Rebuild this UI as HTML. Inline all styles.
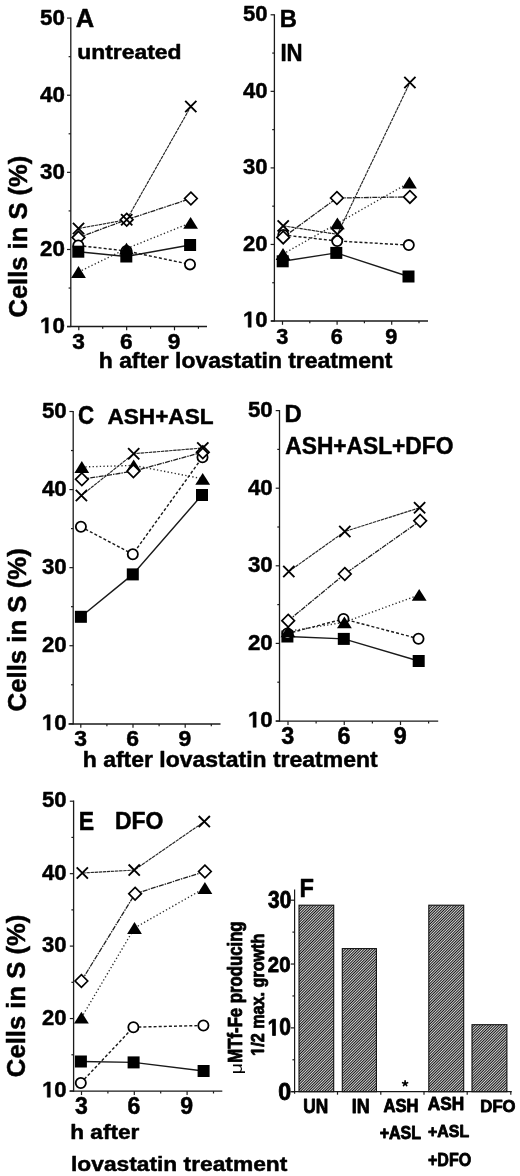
<!DOCTYPE html>
<html><head><meta charset="utf-8"><style>html,body{margin:0;padding:0;background:#fff;width:520px;height:1176px;overflow:hidden}</style></head>
<body>
<svg width="520" height="1176" viewBox="0 0 520 1176" style="position:absolute;left:0;top:0;filter:blur(0.35px)">
<defs><pattern id="h" patternUnits="userSpaceOnUse" width="1.91" height="4" patternTransform="rotate(45)"><rect width="1.91" height="4" fill="#d6d6d6"/><rect width="0.95" height="4" fill="#141414"/></pattern></defs>
<rect width="520" height="1176" fill="#fff"/>
<g font-family='"Liberation Sans", sans-serif' fill="#000">
<line x1="70.80" y1="17.50" x2="70.80" y2="327.10" stroke="#1a1a1a" stroke-width="1.3" />
<line x1="67.00" y1="326.50" x2="207.00" y2="326.50" stroke="#1a1a1a" stroke-width="1.3" />
<line x1="67.00" y1="326.60" x2="70.80" y2="326.60" stroke="#1a1a1a" stroke-width="1.2" />
<line x1="68.60" y1="288.04" x2="70.80" y2="288.04" stroke="#1a1a1a" stroke-width="1.2" />
<line x1="67.00" y1="249.48" x2="70.80" y2="249.48" stroke="#1a1a1a" stroke-width="1.2" />
<line x1="68.60" y1="210.91" x2="70.80" y2="210.91" stroke="#1a1a1a" stroke-width="1.2" />
<line x1="67.00" y1="172.35" x2="70.80" y2="172.35" stroke="#1a1a1a" stroke-width="1.2" />
<line x1="68.60" y1="133.79" x2="70.80" y2="133.79" stroke="#1a1a1a" stroke-width="1.2" />
<line x1="67.00" y1="95.23" x2="70.80" y2="95.23" stroke="#1a1a1a" stroke-width="1.2" />
<line x1="68.60" y1="56.66" x2="70.80" y2="56.66" stroke="#1a1a1a" stroke-width="1.2" />
<line x1="67.00" y1="18.10" x2="70.80" y2="18.10" stroke="#1a1a1a" stroke-width="1.2" />
<line x1="78.80" y1="326.50" x2="78.80" y2="330.30" stroke="#1a1a1a" stroke-width="1.2" />
<line x1="102.72" y1="326.50" x2="102.72" y2="328.80" stroke="#1a1a1a" stroke-width="1.2" />
<line x1="126.65" y1="326.50" x2="126.65" y2="330.30" stroke="#1a1a1a" stroke-width="1.2" />
<line x1="150.57" y1="326.50" x2="150.57" y2="328.80" stroke="#1a1a1a" stroke-width="1.2" />
<line x1="174.50" y1="326.50" x2="174.50" y2="330.30" stroke="#1a1a1a" stroke-width="1.2" />
<line x1="198.43" y1="326.50" x2="198.43" y2="328.80" stroke="#1a1a1a" stroke-width="1.2" />
<g transform="translate(40.00,333.12) scale(0.22339,0.22394)"><path transform="translate(0.00,0)" d="M23.34,0L23.34,-57.13L6.84,-46.83L6.84,-57.62L24.07,-68.80L37.06,-68.80L37.06,0Z" stroke="#000" stroke-width="2.233" stroke-linejoin="round"/><text x="55.62" font-size="100" font-weight="bold" stroke="#000" stroke-width="2.233" stroke-linejoin="round">0</text></g>
<text transform="translate(40.00,256.00) scale(0.22339,0.22394)" font-size="100" font-weight="bold" stroke="#000" stroke-width="2.233" stroke-linejoin="round">20</text>
<text transform="translate(40.00,178.87) scale(0.22339,0.22394)" font-size="100" font-weight="bold" stroke="#000" stroke-width="2.233" stroke-linejoin="round">30</text>
<text transform="translate(40.00,101.75) scale(0.22339,0.22394)" font-size="100" font-weight="bold" stroke="#000" stroke-width="2.233" stroke-linejoin="round">40</text>
<text transform="translate(40.00,24.62) scale(0.22339,0.22394)" font-size="100" font-weight="bold" stroke="#000" stroke-width="2.233" stroke-linejoin="round">50</text>
<text transform="translate(72.30,349.12) scale(0.22676,0.22676)" font-size="100" font-weight="bold" stroke="#000" stroke-width="2.205" stroke-linejoin="round">3</text>
<text transform="translate(119.98,349.12) scale(0.22676,0.22676)" font-size="100" font-weight="bold" stroke="#000" stroke-width="2.205" stroke-linejoin="round">6</text>
<text transform="translate(167.86,349.12) scale(0.22676,0.22676)" font-size="100" font-weight="bold" stroke="#000" stroke-width="2.205" stroke-linejoin="round">9</text>
<path d="M78.30,251.70L126.30,256.50L190.10,245.00" fill="none" stroke="#1a1a1a" stroke-width="1.45" />
<path d="M78.30,245.50L126.50,251.00L190.00,264.40" fill="none" stroke="#1a1a1a" stroke-width="1.45" stroke-dasharray="3,2.1"/>
<path d="M78.50,272.00L126.50,248.60L190.60,222.80" fill="none" stroke="#2a2a2a" stroke-width="1.35" stroke-dasharray="1.3,2.3"/>
<path d="M78.50,237.60L126.70,219.70L190.90,198.50" fill="none" stroke="#202020" stroke-width="1.3" stroke-dasharray="5,1,1.5,1"/>
<path d="M78.50,228.50L126.70,219.70L190.80,106.50" fill="none" stroke="#262626" stroke-width="1.15" stroke-dasharray="3.4,0.7"/>
<path d="M78.50,231.30L84.80,237.60L78.50,243.90L72.20,237.60Z" stroke="#000" stroke-width="1.7" fill="#fff"/>
<path d="M126.70,213.40L133.00,219.70L126.70,226.00L120.40,219.70Z" stroke="#000" stroke-width="1.7" fill="#fff"/>
<path d="M190.90,192.20L197.20,198.50L190.90,204.80L184.60,198.50Z" stroke="#000" stroke-width="1.7" fill="#fff"/>
<path d="M72.90,222.90L84.10,234.10M84.10,222.90L72.90,234.10" stroke="#000" stroke-width="1.9" fill="none"/>
<path d="M121.10,214.10L132.30,225.30M132.30,214.10L121.10,225.30" stroke="#000" stroke-width="1.9" fill="none"/>
<path d="M185.20,100.90L196.40,112.10M196.40,100.90L185.20,112.10" stroke="#000" stroke-width="1.9" fill="none"/>
<circle cx="78.30" cy="245.50" r="5.1" stroke="#000" stroke-width="1.8" fill="#fff"/>
<circle cx="126.50" cy="251.00" r="5.1" stroke="#000" stroke-width="1.8" fill="#fff"/>
<circle cx="190.00" cy="264.40" r="5.1" stroke="#000" stroke-width="1.8" fill="#fff"/>
<rect x="72.30" y="245.70" width="12.00" height="12.00" fill="#000"/>
<rect x="120.30" y="250.50" width="12.00" height="12.00" fill="#000"/>
<rect x="184.10" y="239.00" width="12.00" height="12.00" fill="#000"/>
<path d="M78.50,266.10L85.90,277.90L71.10,277.90Z" fill="#000"/>
<path d="M126.50,242.70L133.90,254.50L119.10,254.50Z" fill="#000"/>
<path d="M190.60,216.90L198.00,228.70L183.20,228.70Z" fill="#000"/>
<line x1="274.40" y1="14.20" x2="274.40" y2="321.60" stroke="#1a1a1a" stroke-width="1.3" />
<line x1="271.00" y1="321.00" x2="428.00" y2="321.00" stroke="#1a1a1a" stroke-width="1.3" />
<line x1="270.60" y1="321.00" x2="274.40" y2="321.00" stroke="#1a1a1a" stroke-width="1.2" />
<line x1="272.20" y1="282.73" x2="274.40" y2="282.73" stroke="#1a1a1a" stroke-width="1.2" />
<line x1="270.60" y1="244.45" x2="274.40" y2="244.45" stroke="#1a1a1a" stroke-width="1.2" />
<line x1="272.20" y1="206.18" x2="274.40" y2="206.18" stroke="#1a1a1a" stroke-width="1.2" />
<line x1="270.60" y1="167.90" x2="274.40" y2="167.90" stroke="#1a1a1a" stroke-width="1.2" />
<line x1="272.20" y1="129.63" x2="274.40" y2="129.63" stroke="#1a1a1a" stroke-width="1.2" />
<line x1="270.60" y1="91.35" x2="274.40" y2="91.35" stroke="#1a1a1a" stroke-width="1.2" />
<line x1="272.20" y1="53.08" x2="274.40" y2="53.08" stroke="#1a1a1a" stroke-width="1.2" />
<line x1="270.60" y1="14.80" x2="274.40" y2="14.80" stroke="#1a1a1a" stroke-width="1.2" />
<line x1="282.50" y1="321.00" x2="282.50" y2="324.80" stroke="#1a1a1a" stroke-width="1.2" />
<line x1="309.80" y1="321.00" x2="309.80" y2="323.30" stroke="#1a1a1a" stroke-width="1.2" />
<line x1="337.10" y1="321.00" x2="337.10" y2="324.80" stroke="#1a1a1a" stroke-width="1.2" />
<line x1="364.40" y1="321.00" x2="364.40" y2="323.30" stroke="#1a1a1a" stroke-width="1.2" />
<line x1="391.70" y1="321.00" x2="391.70" y2="324.80" stroke="#1a1a1a" stroke-width="1.2" />
<line x1="419.00" y1="321.00" x2="419.00" y2="323.30" stroke="#1a1a1a" stroke-width="1.2" />
<g transform="translate(243.00,327.22) scale(0.22053,0.22394)"><path transform="translate(0.00,0)" d="M23.34,0L23.34,-57.13L6.84,-46.83L6.84,-57.62L24.07,-68.80L37.06,-68.80L37.06,0Z" stroke="#000" stroke-width="2.233" stroke-linejoin="round"/><text x="55.62" font-size="100" font-weight="bold" stroke="#000" stroke-width="2.233" stroke-linejoin="round">0</text></g>
<text transform="translate(243.00,250.67) scale(0.22053,0.22394)" font-size="100" font-weight="bold" stroke="#000" stroke-width="2.233" stroke-linejoin="round">20</text>
<text transform="translate(243.00,174.12) scale(0.22053,0.22394)" font-size="100" font-weight="bold" stroke="#000" stroke-width="2.233" stroke-linejoin="round">30</text>
<text transform="translate(243.00,97.57) scale(0.22053,0.22394)" font-size="100" font-weight="bold" stroke="#000" stroke-width="2.233" stroke-linejoin="round">40</text>
<text transform="translate(243.00,21.02) scale(0.22053,0.22394)" font-size="100" font-weight="bold" stroke="#000" stroke-width="2.233" stroke-linejoin="round">50</text>
<text transform="translate(276.27,343.53) scale(0.21690,0.21690)" font-size="100" font-weight="bold" stroke="#000" stroke-width="2.305" stroke-linejoin="round">3</text>
<text transform="translate(330.70,343.53) scale(0.21690,0.21690)" font-size="100" font-weight="bold" stroke="#000" stroke-width="2.305" stroke-linejoin="round">6</text>
<text transform="translate(385.33,343.53) scale(0.21690,0.21690)" font-size="100" font-weight="bold" stroke="#000" stroke-width="2.305" stroke-linejoin="round">9</text>
<path d="M282.70,261.30L336.30,252.90L408.50,276.50" fill="none" stroke="#1a1a1a" stroke-width="1.45" />
<path d="M283.30,235.00L337.20,241.00L408.80,245.10" fill="none" stroke="#1a1a1a" stroke-width="1.45" stroke-dasharray="3,2.1"/>
<path d="M283.00,254.00L337.40,223.40L409.40,182.50" fill="none" stroke="#2a2a2a" stroke-width="1.35" stroke-dasharray="1.3,2.3"/>
<path d="M283.20,237.40L336.90,198.00L409.90,196.90" fill="none" stroke="#202020" stroke-width="1.3" stroke-dasharray="5,1,1.5,1"/>
<path d="M283.20,225.90L337.40,234.30L409.90,82.50" fill="none" stroke="#262626" stroke-width="1.15" stroke-dasharray="3.4,0.7"/>
<circle cx="283.30" cy="235.00" r="5.1" stroke="#000" stroke-width="1.8" fill="#fff"/>
<circle cx="337.20" cy="241.00" r="5.1" stroke="#000" stroke-width="1.8" fill="#fff"/>
<circle cx="408.80" cy="245.10" r="5.1" stroke="#000" stroke-width="1.8" fill="#fff"/>
<path d="M283.20,231.10L289.50,237.40L283.20,243.70L276.90,237.40Z" stroke="#000" stroke-width="1.7" fill="#fff"/>
<path d="M336.90,191.70L343.20,198.00L336.90,204.30L330.60,198.00Z" stroke="#000" stroke-width="1.7" fill="#fff"/>
<path d="M409.90,190.60L416.20,196.90L409.90,203.20L403.60,196.90Z" stroke="#000" stroke-width="1.7" fill="#fff"/>
<path d="M277.60,220.30L288.80,231.50M288.80,220.30L277.60,231.50" stroke="#000" stroke-width="1.9" fill="none"/>
<path d="M331.80,228.70L343.00,239.90M343.00,228.70L331.80,239.90" stroke="#000" stroke-width="1.9" fill="none"/>
<path d="M404.30,76.90L415.50,88.10M415.50,76.90L404.30,88.10" stroke="#000" stroke-width="1.9" fill="none"/>
<path d="M283.00,248.10L290.40,259.90L275.60,259.90Z" fill="#000"/>
<path d="M337.40,217.50L344.80,229.30L330.00,229.30Z" fill="#000"/>
<path d="M409.40,176.60L416.80,188.40L402.00,188.40Z" fill="#000"/>
<rect x="276.70" y="255.30" width="12.00" height="12.00" fill="#000"/>
<rect x="330.30" y="246.90" width="12.00" height="12.00" fill="#000"/>
<rect x="402.50" y="270.50" width="12.00" height="12.00" fill="#000"/>
<line x1="73.20" y1="410.90" x2="73.20" y2="724.60" stroke="#1a1a1a" stroke-width="1.3" />
<line x1="68.50" y1="724.00" x2="220.50" y2="724.00" stroke="#1a1a1a" stroke-width="1.3" />
<line x1="69.40" y1="723.80" x2="73.20" y2="723.80" stroke="#1a1a1a" stroke-width="1.2" />
<line x1="71.00" y1="684.76" x2="73.20" y2="684.76" stroke="#1a1a1a" stroke-width="1.2" />
<line x1="69.40" y1="645.72" x2="73.20" y2="645.72" stroke="#1a1a1a" stroke-width="1.2" />
<line x1="71.00" y1="606.69" x2="73.20" y2="606.69" stroke="#1a1a1a" stroke-width="1.2" />
<line x1="69.40" y1="567.65" x2="73.20" y2="567.65" stroke="#1a1a1a" stroke-width="1.2" />
<line x1="71.00" y1="528.61" x2="73.20" y2="528.61" stroke="#1a1a1a" stroke-width="1.2" />
<line x1="69.40" y1="489.57" x2="73.20" y2="489.57" stroke="#1a1a1a" stroke-width="1.2" />
<line x1="71.00" y1="450.54" x2="73.20" y2="450.54" stroke="#1a1a1a" stroke-width="1.2" />
<line x1="69.40" y1="411.50" x2="73.20" y2="411.50" stroke="#1a1a1a" stroke-width="1.2" />
<line x1="80.80" y1="724.00" x2="80.80" y2="727.80" stroke="#1a1a1a" stroke-width="1.2" />
<line x1="106.90" y1="724.00" x2="106.90" y2="726.30" stroke="#1a1a1a" stroke-width="1.2" />
<line x1="133.00" y1="724.00" x2="133.00" y2="727.80" stroke="#1a1a1a" stroke-width="1.2" />
<line x1="159.10" y1="724.00" x2="159.10" y2="726.30" stroke="#1a1a1a" stroke-width="1.2" />
<line x1="185.20" y1="724.00" x2="185.20" y2="727.80" stroke="#1a1a1a" stroke-width="1.2" />
<line x1="211.30" y1="724.00" x2="211.30" y2="726.30" stroke="#1a1a1a" stroke-width="1.2" />
<g transform="translate(41.90,730.12) scale(0.22243,0.22394)"><path transform="translate(0.00,0)" d="M23.34,0L23.34,-57.13L6.84,-46.83L6.84,-57.62L24.07,-68.80L37.06,-68.80L37.06,0Z" stroke="#000" stroke-width="2.233" stroke-linejoin="round"/><text x="55.62" font-size="100" font-weight="bold" stroke="#000" stroke-width="2.233" stroke-linejoin="round">0</text></g>
<text transform="translate(41.90,652.05) scale(0.22243,0.22394)" font-size="100" font-weight="bold" stroke="#000" stroke-width="2.233" stroke-linejoin="round">20</text>
<text transform="translate(41.90,573.97) scale(0.22243,0.22394)" font-size="100" font-weight="bold" stroke="#000" stroke-width="2.233" stroke-linejoin="round">30</text>
<text transform="translate(41.90,495.90) scale(0.22243,0.22394)" font-size="100" font-weight="bold" stroke="#000" stroke-width="2.233" stroke-linejoin="round">40</text>
<text transform="translate(41.90,417.82) scale(0.22243,0.22394)" font-size="100" font-weight="bold" stroke="#000" stroke-width="2.233" stroke-linejoin="round">50</text>
<text transform="translate(74.22,746.41) scale(0.22958,0.22958)" font-size="100" font-weight="bold" stroke="#000" stroke-width="2.178" stroke-linejoin="round">3</text>
<text transform="translate(126.25,746.41) scale(0.22958,0.22958)" font-size="100" font-weight="bold" stroke="#000" stroke-width="2.178" stroke-linejoin="round">6</text>
<text transform="translate(178.48,746.41) scale(0.22958,0.22958)" font-size="100" font-weight="bold" stroke="#000" stroke-width="2.178" stroke-linejoin="round">9</text>
<path d="M80.90,616.80L132.80,574.40L202.00,495.00" fill="none" stroke="#1a1a1a" stroke-width="1.45" />
<path d="M80.90,526.80L132.80,554.20L202.50,457.20" fill="none" stroke="#1a1a1a" stroke-width="1.45" stroke-dasharray="3,2.1"/>
<path d="M81.80,467.00L133.70,465.40L202.70,478.80" fill="none" stroke="#2a2a2a" stroke-width="1.35" stroke-dasharray="1.3,2.3"/>
<path d="M81.85,479.30L133.40,471.20L202.80,452.20" fill="none" stroke="#202020" stroke-width="1.3" stroke-dasharray="5,1,1.5,1"/>
<path d="M81.40,495.50L133.70,453.70L202.80,448.00" fill="none" stroke="#262626" stroke-width="1.15" stroke-dasharray="3.4,0.7"/>
<path d="M81.80,461.10L89.20,472.90L74.40,472.90Z" fill="#000"/>
<path d="M133.70,459.50L141.10,471.30L126.30,471.30Z" fill="#000"/>
<path d="M202.70,472.90L210.10,484.70L195.30,484.70Z" fill="#000"/>
<circle cx="80.90" cy="526.80" r="5.1" stroke="#000" stroke-width="1.8" fill="#fff"/>
<circle cx="132.80" cy="554.20" r="5.1" stroke="#000" stroke-width="1.8" fill="#fff"/>
<circle cx="202.50" cy="457.20" r="5.1" stroke="#000" stroke-width="1.8" fill="#fff"/>
<path d="M81.85,473.00L88.15,479.30L81.85,485.60L75.55,479.30Z" stroke="#000" stroke-width="1.7" fill="#fff"/>
<path d="M133.40,464.90L139.70,471.20L133.40,477.50L127.10,471.20Z" stroke="#000" stroke-width="1.7" fill="#fff"/>
<path d="M202.80,445.90L209.10,452.20L202.80,458.50L196.50,452.20Z" stroke="#000" stroke-width="1.7" fill="#fff"/>
<path d="M75.80,489.90L87.00,501.10M87.00,489.90L75.80,501.10" stroke="#000" stroke-width="1.9" fill="none"/>
<path d="M128.10,448.10L139.30,459.30M139.30,448.10L128.10,459.30" stroke="#000" stroke-width="1.9" fill="none"/>
<path d="M197.20,442.40L208.40,453.60M208.40,442.40L197.20,453.60" stroke="#000" stroke-width="1.9" fill="none"/>
<rect x="74.90" y="610.80" width="12.00" height="12.00" fill="#000"/>
<rect x="126.80" y="568.40" width="12.00" height="12.00" fill="#000"/>
<rect x="196.00" y="489.00" width="12.00" height="12.00" fill="#000"/>
<line x1="279.50" y1="410.00" x2="279.50" y2="721.80" stroke="#1a1a1a" stroke-width="1.3" />
<line x1="275.80" y1="721.20" x2="438.20" y2="721.20" stroke="#1a1a1a" stroke-width="1.3" />
<line x1="275.70" y1="721.00" x2="279.50" y2="721.00" stroke="#1a1a1a" stroke-width="1.2" />
<line x1="277.30" y1="682.20" x2="279.50" y2="682.20" stroke="#1a1a1a" stroke-width="1.2" />
<line x1="275.70" y1="643.40" x2="279.50" y2="643.40" stroke="#1a1a1a" stroke-width="1.2" />
<line x1="277.30" y1="604.60" x2="279.50" y2="604.60" stroke="#1a1a1a" stroke-width="1.2" />
<line x1="275.70" y1="565.80" x2="279.50" y2="565.80" stroke="#1a1a1a" stroke-width="1.2" />
<line x1="277.30" y1="527.00" x2="279.50" y2="527.00" stroke="#1a1a1a" stroke-width="1.2" />
<line x1="275.70" y1="488.20" x2="279.50" y2="488.20" stroke="#1a1a1a" stroke-width="1.2" />
<line x1="277.30" y1="449.40" x2="279.50" y2="449.40" stroke="#1a1a1a" stroke-width="1.2" />
<line x1="275.70" y1="410.60" x2="279.50" y2="410.60" stroke="#1a1a1a" stroke-width="1.2" />
<line x1="288.00" y1="721.20" x2="288.00" y2="725.00" stroke="#1a1a1a" stroke-width="1.2" />
<line x1="316.12" y1="721.20" x2="316.12" y2="723.50" stroke="#1a1a1a" stroke-width="1.2" />
<line x1="344.25" y1="721.20" x2="344.25" y2="725.00" stroke="#1a1a1a" stroke-width="1.2" />
<line x1="372.38" y1="721.20" x2="372.38" y2="723.50" stroke="#1a1a1a" stroke-width="1.2" />
<line x1="400.50" y1="721.20" x2="400.50" y2="725.00" stroke="#1a1a1a" stroke-width="1.2" />
<line x1="428.62" y1="721.20" x2="428.62" y2="723.50" stroke="#1a1a1a" stroke-width="1.2" />
<g transform="translate(247.90,727.32) scale(0.22243,0.22394)"><path transform="translate(0.00,0)" d="M23.34,0L23.34,-57.13L6.84,-46.83L6.84,-57.62L24.07,-68.80L37.06,-68.80L37.06,0Z" stroke="#000" stroke-width="2.233" stroke-linejoin="round"/><text x="55.62" font-size="100" font-weight="bold" stroke="#000" stroke-width="2.233" stroke-linejoin="round">0</text></g>
<text transform="translate(247.90,649.72) scale(0.22243,0.22394)" font-size="100" font-weight="bold" stroke="#000" stroke-width="2.233" stroke-linejoin="round">20</text>
<text transform="translate(247.90,572.12) scale(0.22243,0.22394)" font-size="100" font-weight="bold" stroke="#000" stroke-width="2.233" stroke-linejoin="round">30</text>
<text transform="translate(247.90,494.52) scale(0.22243,0.22394)" font-size="100" font-weight="bold" stroke="#000" stroke-width="2.233" stroke-linejoin="round">40</text>
<text transform="translate(247.90,416.92) scale(0.22243,0.22394)" font-size="100" font-weight="bold" stroke="#000" stroke-width="2.233" stroke-linejoin="round">50</text>
<text transform="translate(281.31,743.81) scale(0.23380,0.23380)" font-size="100" font-weight="bold" stroke="#000" stroke-width="2.139" stroke-linejoin="round">3</text>
<text transform="translate(337.38,743.81) scale(0.23380,0.23380)" font-size="100" font-weight="bold" stroke="#000" stroke-width="2.139" stroke-linejoin="round">6</text>
<text transform="translate(393.66,743.81) scale(0.23380,0.23380)" font-size="100" font-weight="bold" stroke="#000" stroke-width="2.139" stroke-linejoin="round">9</text>
<path d="M287.40,636.50L343.80,638.90L418.70,661.00" fill="none" stroke="#1a1a1a" stroke-width="1.45" />
<path d="M287.50,633.50L343.50,619.00L418.50,638.70" fill="none" stroke="#1a1a1a" stroke-width="1.45" stroke-dasharray="3,2.1"/>
<path d="M288.00,631.30L344.40,622.30L419.20,594.80" fill="none" stroke="#2a2a2a" stroke-width="1.35" stroke-dasharray="1.3,2.3"/>
<path d="M288.20,620.70L344.80,574.00L420.20,520.80" fill="none" stroke="#202020" stroke-width="1.3" stroke-dasharray="5,1,1.5,1"/>
<path d="M288.80,571.50L344.80,531.50L419.60,507.80" fill="none" stroke="#262626" stroke-width="1.15" stroke-dasharray="3.4,0.7"/>
<rect x="281.40" y="630.50" width="12.00" height="12.00" fill="#000"/>
<rect x="337.80" y="632.90" width="12.00" height="12.00" fill="#000"/>
<rect x="412.70" y="655.00" width="12.00" height="12.00" fill="#000"/>
<circle cx="287.50" cy="633.50" r="5.1" stroke="#000" stroke-width="1.8" fill="#fff"/>
<circle cx="343.50" cy="619.00" r="5.1" stroke="#000" stroke-width="1.8" fill="#fff"/>
<circle cx="418.50" cy="638.70" r="5.1" stroke="#000" stroke-width="1.8" fill="#fff"/>
<path d="M288.00,625.40L295.40,637.20L280.60,637.20Z" fill="#000"/>
<path d="M344.40,616.40L351.80,628.20L337.00,628.20Z" fill="#000"/>
<path d="M419.20,588.90L426.60,600.70L411.80,600.70Z" fill="#000"/>
<path d="M288.20,614.40L294.50,620.70L288.20,627.00L281.90,620.70Z" stroke="#000" stroke-width="1.7" fill="#fff"/>
<path d="M344.80,567.70L351.10,574.00L344.80,580.30L338.50,574.00Z" stroke="#000" stroke-width="1.7" fill="#fff"/>
<path d="M420.20,514.50L426.50,520.80L420.20,527.10L413.90,520.80Z" stroke="#000" stroke-width="1.7" fill="#fff"/>
<path d="M283.20,565.90L294.40,577.10M294.40,565.90L283.20,577.10" stroke="#000" stroke-width="1.9" fill="none"/>
<path d="M339.20,525.90L350.40,537.10M350.40,525.90L339.20,537.10" stroke="#000" stroke-width="1.9" fill="none"/>
<path d="M414.00,502.20L425.20,513.40M425.20,502.20L414.00,513.40" stroke="#000" stroke-width="1.9" fill="none"/>
<line x1="73.60" y1="800.60" x2="73.60" y2="1091.80" stroke="#1a1a1a" stroke-width="1.3" />
<line x1="69.50" y1="1091.20" x2="222.30" y2="1091.20" stroke="#1a1a1a" stroke-width="1.3" />
<line x1="69.80" y1="1091.00" x2="73.60" y2="1091.00" stroke="#1a1a1a" stroke-width="1.2" />
<line x1="71.40" y1="1054.78" x2="73.60" y2="1054.78" stroke="#1a1a1a" stroke-width="1.2" />
<line x1="69.80" y1="1018.55" x2="73.60" y2="1018.55" stroke="#1a1a1a" stroke-width="1.2" />
<line x1="71.40" y1="982.33" x2="73.60" y2="982.33" stroke="#1a1a1a" stroke-width="1.2" />
<line x1="69.80" y1="946.10" x2="73.60" y2="946.10" stroke="#1a1a1a" stroke-width="1.2" />
<line x1="71.40" y1="909.88" x2="73.60" y2="909.88" stroke="#1a1a1a" stroke-width="1.2" />
<line x1="69.80" y1="873.65" x2="73.60" y2="873.65" stroke="#1a1a1a" stroke-width="1.2" />
<line x1="71.40" y1="837.43" x2="73.60" y2="837.43" stroke="#1a1a1a" stroke-width="1.2" />
<line x1="69.80" y1="801.20" x2="73.60" y2="801.20" stroke="#1a1a1a" stroke-width="1.2" />
<line x1="81.50" y1="1091.20" x2="81.50" y2="1095.00" stroke="#1a1a1a" stroke-width="1.2" />
<line x1="107.90" y1="1091.20" x2="107.90" y2="1093.50" stroke="#1a1a1a" stroke-width="1.2" />
<line x1="134.30" y1="1091.20" x2="134.30" y2="1095.00" stroke="#1a1a1a" stroke-width="1.2" />
<line x1="160.70" y1="1091.20" x2="160.70" y2="1093.50" stroke="#1a1a1a" stroke-width="1.2" />
<line x1="187.10" y1="1091.20" x2="187.10" y2="1095.00" stroke="#1a1a1a" stroke-width="1.2" />
<line x1="213.50" y1="1091.20" x2="213.50" y2="1093.50" stroke="#1a1a1a" stroke-width="1.2" />
<g transform="translate(42.10,1097.22) scale(0.22053,0.22254)"><path transform="translate(0.00,0)" d="M23.34,0L23.34,-57.13L6.84,-46.83L6.84,-57.62L24.07,-68.80L37.06,-68.80L37.06,0Z" stroke="#000" stroke-width="2.247" stroke-linejoin="round"/><text x="55.62" font-size="100" font-weight="bold" stroke="#000" stroke-width="2.247" stroke-linejoin="round">0</text></g>
<text transform="translate(42.10,1024.77) scale(0.22053,0.22254)" font-size="100" font-weight="bold" stroke="#000" stroke-width="2.247" stroke-linejoin="round">20</text>
<text transform="translate(42.10,952.32) scale(0.22053,0.22254)" font-size="100" font-weight="bold" stroke="#000" stroke-width="2.247" stroke-linejoin="round">30</text>
<text transform="translate(42.10,879.87) scale(0.22053,0.22254)" font-size="100" font-weight="bold" stroke="#000" stroke-width="2.247" stroke-linejoin="round">40</text>
<text transform="translate(42.10,807.42) scale(0.22053,0.22254)" font-size="100" font-weight="bold" stroke="#000" stroke-width="2.247" stroke-linejoin="round">50</text>
<text transform="translate(74.88,1114.01) scale(0.23099,0.23099)" font-size="100" font-weight="bold" stroke="#000" stroke-width="2.165" stroke-linejoin="round">3</text>
<text transform="translate(127.51,1114.01) scale(0.23099,0.23099)" font-size="100" font-weight="bold" stroke="#000" stroke-width="2.165" stroke-linejoin="round">6</text>
<text transform="translate(180.34,1114.01) scale(0.23099,0.23099)" font-size="100" font-weight="bold" stroke="#000" stroke-width="2.165" stroke-linejoin="round">9</text>
<path d="M80.90,1061.50L133.60,1062.40L203.60,1071.00" fill="none" stroke="#1a1a1a" stroke-width="1.45" />
<path d="M80.80,1083.00L133.40,1027.20L203.40,1025.50" fill="none" stroke="#1a1a1a" stroke-width="1.45" stroke-dasharray="3,2.1"/>
<path d="M81.40,1017.70L134.50,928.00L204.90,888.00" fill="none" stroke="#2a2a2a" stroke-width="1.35" stroke-dasharray="1.3,2.3"/>
<path d="M81.40,981.00L135.10,893.70L204.90,871.50" fill="none" stroke="#202020" stroke-width="1.3" stroke-dasharray="5,1,1.5,1"/>
<path d="M82.30,873.00L134.20,870.10L204.30,821.60" fill="none" stroke="#262626" stroke-width="1.15" stroke-dasharray="3.4,0.7"/>
<rect x="74.90" y="1055.50" width="12.00" height="12.00" fill="#000"/>
<rect x="127.60" y="1056.40" width="12.00" height="12.00" fill="#000"/>
<rect x="197.60" y="1065.00" width="12.00" height="12.00" fill="#000"/>
<circle cx="80.80" cy="1083.00" r="5.1" stroke="#000" stroke-width="1.8" fill="#fff"/>
<circle cx="133.40" cy="1027.20" r="5.1" stroke="#000" stroke-width="1.8" fill="#fff"/>
<circle cx="203.40" cy="1025.50" r="5.1" stroke="#000" stroke-width="1.8" fill="#fff"/>
<path d="M81.40,1011.80L88.80,1023.60L74.00,1023.60Z" fill="#000"/>
<path d="M134.50,922.10L141.90,933.90L127.10,933.90Z" fill="#000"/>
<path d="M204.90,882.10L212.30,893.90L197.50,893.90Z" fill="#000"/>
<path d="M81.40,974.70L87.70,981.00L81.40,987.30L75.10,981.00Z" stroke="#000" stroke-width="1.7" fill="#fff"/>
<path d="M135.10,887.40L141.40,893.70L135.10,900.00L128.80,893.70Z" stroke="#000" stroke-width="1.7" fill="#fff"/>
<path d="M204.90,865.20L211.20,871.50L204.90,877.80L198.60,871.50Z" stroke="#000" stroke-width="1.7" fill="#fff"/>
<path d="M76.70,867.40L87.90,878.60M87.90,867.40L76.70,878.60" stroke="#000" stroke-width="1.9" fill="none"/>
<path d="M128.60,864.50L139.80,875.70M139.80,864.50L128.60,875.70" stroke="#000" stroke-width="1.9" fill="none"/>
<path d="M198.70,816.00L209.90,827.20M209.90,816.00L198.70,827.20" stroke="#000" stroke-width="1.9" fill="none"/>
<text transform="translate(75.66,27.40) scale(0.25522,0.24873)" font-size="100" font-weight="bold" stroke="#000" stroke-width="2.010" stroke-linejoin="round">A</text>
<text transform="translate(77.17,58.89) scale(0.22925,0.20952)" font-size="100" font-weight="bold" stroke="#000" stroke-width="2.386" stroke-linejoin="round">untreated</text>
<text transform="translate(279.70,27.10) scale(0.23770,0.24655)" font-size="100" font-weight="bold" stroke="#000" stroke-width="2.028" stroke-linejoin="round">B</text>
<text transform="translate(280.40,61.30) scale(0.22197,0.23418)" font-size="100" font-weight="bold" stroke="#000" stroke-width="2.135" stroke-linejoin="round">IN</text>
<text transform="translate(78.11,424.10) scale(0.22290,0.25018)" font-size="100" font-weight="bold" stroke="#000" stroke-width="1.999" stroke-linejoin="round">C</text>
<text transform="translate(107.43,423.68) scale(0.22608,0.21908)" font-size="100" font-weight="bold" stroke="#000" stroke-width="2.282" stroke-linejoin="round">ASH+ASL</text>
<text transform="translate(284.59,422.00) scale(0.23837,0.24582)" font-size="100" font-weight="bold" stroke="#000" stroke-width="2.034" stroke-linejoin="round">D</text>
<text transform="translate(285.33,453.67) scale(0.22752,0.23180)" font-size="100" font-weight="bold" stroke="#000" stroke-width="2.157" stroke-linejoin="round">ASH+ASL+DFO</text>
<text transform="translate(78.75,829.50) scale(0.23036,0.25018)" font-size="100" font-weight="bold" stroke="#000" stroke-width="1.999" stroke-linejoin="round">E</text>
<text transform="translate(115.05,828.77) scale(0.22950,0.23463)" font-size="100" font-weight="bold" stroke="#000" stroke-width="2.131" stroke-linejoin="round">DFO</text>
<text transform="translate(26.60,317.52) rotate(-90) scale(0.25556,0.25523)" font-size="100" font-weight="bold" stroke="#000" stroke-width="1.959" stroke-linejoin="round">Cells in S (%)</text>
<text transform="translate(25.64,711.43) rotate(-90) scale(0.25765,0.25845)" font-size="100" font-weight="bold" stroke="#000" stroke-width="1.935" stroke-linejoin="round">Cells in S (%)</text>
<text transform="translate(24.77,1077.13) rotate(-90) scale(0.25669,0.26166)" font-size="100" font-weight="bold" stroke="#000" stroke-width="1.911" stroke-linejoin="round">Cells in S (%)</text>
<text transform="translate(98.80,367.69) scale(0.22893,0.21361)" font-size="100" font-weight="bold" stroke="#000" stroke-width="2.341" stroke-linejoin="round">h after lovastatin treatment</text>
<text transform="translate(82.79,767.08) scale(0.22979,0.21905)" font-size="100" font-weight="bold" stroke="#000" stroke-width="2.283" stroke-linejoin="round">h after lovastatin treatment</text>
<text transform="translate(70.22,1138.89) scale(0.22641,0.20816)" font-size="100" font-weight="bold" stroke="#000" stroke-width="2.402" stroke-linejoin="round">h after</text>
<text transform="translate(71.01,1170.59) scale(0.22771,0.21088)" font-size="100" font-weight="bold" stroke="#000" stroke-width="2.371" stroke-linejoin="round">lovastatin treatment</text>
<line x1="294.60" y1="889.50" x2="294.60" y2="1093.70" stroke="#1a1a1a" stroke-width="1.2" />
<line x1="291.60" y1="1091.70" x2="511.80" y2="1091.70" stroke="#1a1a1a" stroke-width="1.2" />
<line x1="290.80" y1="1091.70" x2="294.60" y2="1091.70" stroke="#1a1a1a" stroke-width="1.2" />
<line x1="292.40" y1="1059.78" x2="294.60" y2="1059.78" stroke="#1a1a1a" stroke-width="1.2" />
<line x1="290.80" y1="1027.87" x2="294.60" y2="1027.87" stroke="#1a1a1a" stroke-width="1.2" />
<line x1="292.40" y1="995.95" x2="294.60" y2="995.95" stroke="#1a1a1a" stroke-width="1.2" />
<line x1="290.80" y1="964.03" x2="294.60" y2="964.03" stroke="#1a1a1a" stroke-width="1.2" />
<line x1="292.40" y1="932.12" x2="294.60" y2="932.12" stroke="#1a1a1a" stroke-width="1.2" />
<line x1="290.80" y1="900.20" x2="294.60" y2="900.20" stroke="#1a1a1a" stroke-width="1.2" />
<line x1="337.50" y1="1091.70" x2="337.50" y2="1094.70" stroke="#1a1a1a" stroke-width="1.2" />
<line x1="380.80" y1="1091.70" x2="380.80" y2="1094.70" stroke="#1a1a1a" stroke-width="1.2" />
<line x1="424.00" y1="1091.70" x2="424.00" y2="1094.70" stroke="#1a1a1a" stroke-width="1.2" />
<line x1="467.20" y1="1091.70" x2="467.20" y2="1094.70" stroke="#1a1a1a" stroke-width="1.2" />
<line x1="510.80" y1="1091.70" x2="510.80" y2="1094.70" stroke="#1a1a1a" stroke-width="1.2" />
<text transform="translate(268.11,908.13) scale(0.20859,0.23451)" font-size="100" font-weight="bold" stroke="#000" stroke-width="3.625" stroke-linejoin="round">30</text>
<text transform="translate(267.86,971.71) scale(0.20338,0.21696)" font-size="100" font-weight="bold" stroke="#000" stroke-width="3.918" stroke-linejoin="round">20</text>
<g transform="translate(267.66,1035.49) scale(0.20993,0.23534)"><path transform="translate(0.00,0)" d="M23.34,0L23.34,-57.13L6.84,-46.83L6.84,-57.62L24.07,-68.80L37.06,-68.80L37.06,0Z" stroke="#000" stroke-width="3.612" stroke-linejoin="round"/><text x="55.62" font-size="100" font-weight="bold" stroke="#000" stroke-width="3.612" stroke-linejoin="round">0</text></g>
<text transform="translate(278.14,1099.69) scale(0.23263,0.23534)" font-size="100" font-weight="bold" stroke="#000" stroke-width="3.612" stroke-linejoin="round">0</text>
<text transform="translate(299.50,896.50) scale(0.23645,0.25018)" font-size="100" font-weight="bold" stroke="#000" stroke-width="1.999" stroke-linejoin="round">F</text>
<rect x="299.00" y="905.20" width="34.70" height="186.50" fill="url(#h)" stroke="#111" stroke-width="1.1"/>
<rect x="342.30" y="948.60" width="34.10" height="143.10" fill="url(#h)" stroke="#111" stroke-width="1.1"/>
<rect x="428.80" y="905.20" width="34.90" height="186.50" fill="url(#h)" stroke="#111" stroke-width="1.1"/>
<rect x="472.00" y="1024.70" width="34.90" height="67.00" fill="url(#h)" stroke="#111" stroke-width="1.1"/>
<path d="M405.10,1083.50L405.10,1080.90M405.10,1083.50L407.57,1082.70M405.10,1083.50L406.63,1085.60M405.10,1083.50L403.57,1085.60M405.10,1083.50L402.63,1082.70" stroke="#000" stroke-width="1.7" stroke-linecap="round" fill="none"/>
<text transform="translate(303.34,1113.03) scale(0.17268,0.19283)" font-size="100" font-weight="bold" stroke="#000" stroke-width="4.408" stroke-linejoin="round">UN</text>
<text transform="translate(351.67,1113.22) scale(0.17861,0.19564)" font-size="100" font-weight="bold" stroke="#000" stroke-width="4.345" stroke-linejoin="round">IN</text>
<text transform="translate(383.46,1112.45) scale(0.16559,0.17456)" font-size="100" font-weight="bold" stroke="#000" stroke-width="4.869" stroke-linejoin="round">ASH</text>
<text transform="translate(379.69,1139.35) scale(0.16036,0.17456)" font-size="100" font-weight="bold" stroke="#000" stroke-width="4.869" stroke-linejoin="round">+ASL</text>
<text transform="translate(427.84,1109.74) scale(0.17252,0.18021)" font-size="100" font-weight="bold" stroke="#000" stroke-width="4.717" stroke-linejoin="round">ASH</text>
<text transform="translate(428.00,1137.45) scale(0.15916,0.17173)" font-size="100" font-weight="bold" stroke="#000" stroke-width="4.950" stroke-linejoin="round">+ASL</text>
<text transform="translate(427.99,1166.04) scale(0.16034,0.18587)" font-size="100" font-weight="bold" stroke="#000" stroke-width="4.573" stroke-linejoin="round">+DFO</text>
<text transform="translate(480.35,1111.56) scale(0.16675,0.16608)" font-size="100" font-weight="bold" stroke="#000" stroke-width="5.118" stroke-linejoin="round">DFO</text>
<text transform="translate(242.30,1062.65) rotate(-90) scale(0.16733,0.19893)" font-size="100" font-weight="bold" stroke="#000" stroke-width="4.273" stroke-linejoin="round">MTf-Fe producing</text>
<text transform="translate(242.30,1074.35) rotate(-90) scale(0.19310,0.16389)" font-size="100" font-weight="normal">μ</text>
<g transform="translate(263.89,1055.84) rotate(-90) scale(0.16174,0.18507)"><path transform="translate(0.00,0)" d="M23.34,0L23.34,-57.13L6.84,-46.83L6.84,-57.62L24.07,-68.80L37.06,-68.80L37.06,0Z" stroke="#000" stroke-width="4.593" stroke-linejoin="round"/><text x="55.62" font-size="100" font-weight="bold" stroke="#000" stroke-width="4.593" stroke-linejoin="round">/</text><text x="83.40" font-size="100" font-weight="bold" stroke="#000" stroke-width="4.593" stroke-linejoin="round">2</text><text x="139.01" font-size="100" font-weight="bold" stroke="#000" stroke-width="4.593" stroke-linejoin="round"> </text><text x="166.80" font-size="100" font-weight="bold" stroke="#000" stroke-width="4.593" stroke-linejoin="round">m</text><text x="255.71" font-size="100" font-weight="bold" stroke="#000" stroke-width="4.593" stroke-linejoin="round">a</text><text x="311.33" font-size="100" font-weight="bold" stroke="#000" stroke-width="4.593" stroke-linejoin="round">x</text><text x="366.94" font-size="100" font-weight="bold" stroke="#000" stroke-width="4.593" stroke-linejoin="round">.</text><text x="394.73" font-size="100" font-weight="bold" stroke="#000" stroke-width="4.593" stroke-linejoin="round"> </text><text x="422.51" font-size="100" font-weight="bold" stroke="#000" stroke-width="4.593" stroke-linejoin="round">g</text><text x="483.59" font-size="100" font-weight="bold" stroke="#000" stroke-width="4.593" stroke-linejoin="round">r</text><text x="522.51" font-size="100" font-weight="bold" stroke="#000" stroke-width="4.593" stroke-linejoin="round">o</text><text x="583.59" font-size="100" font-weight="bold" stroke="#000" stroke-width="4.593" stroke-linejoin="round">w</text><text x="661.38" font-size="100" font-weight="bold" stroke="#000" stroke-width="4.593" stroke-linejoin="round">t</text><text x="694.68" font-size="100" font-weight="bold" stroke="#000" stroke-width="4.593" stroke-linejoin="round">h</text></g>
</g></svg>
</body></html>
